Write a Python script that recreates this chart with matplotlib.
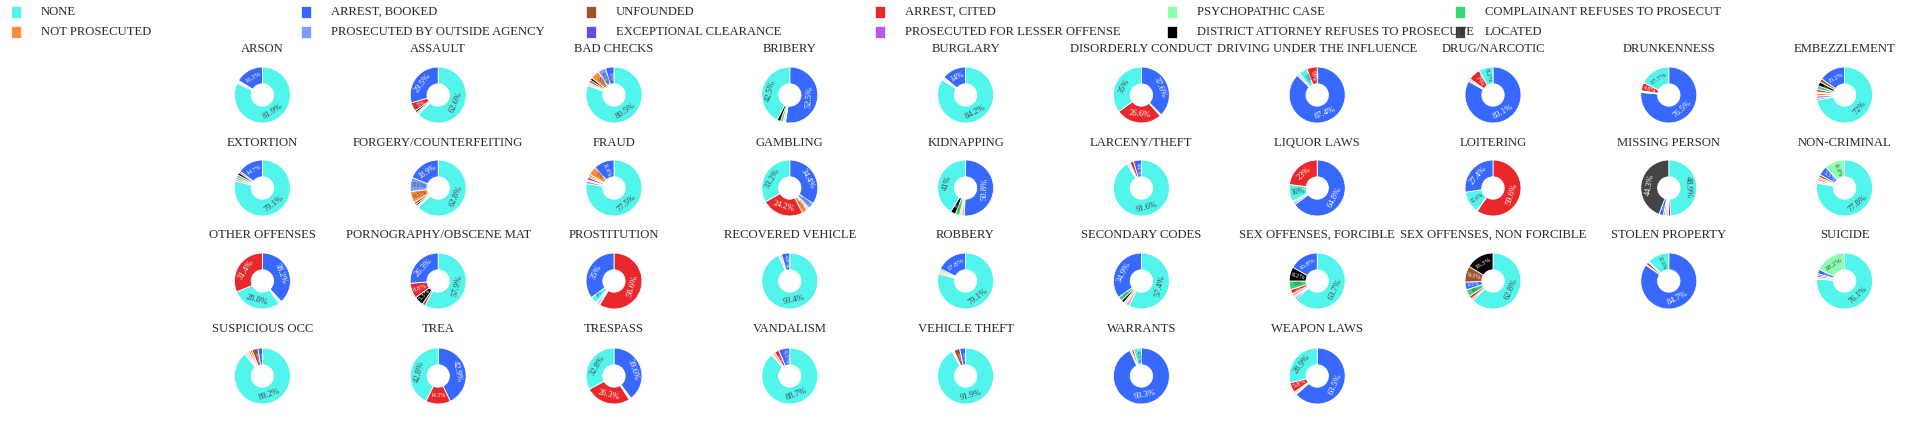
import matplotlib
matplotlib.use("Agg")
import matplotlib.pyplot as plt
import numpy as np
import math
from matplotlib.patches import Rectangle

# ---------------- data ----------------
crimes = ["ARSON", "ASSAULT", "BAD CHECKS", "BRIBERY", "BURGLARY", "DISORDERLY CONDUCT",
          "DRIVING UNDER THE INFLUENCE", "DRUG/NARCOTIC", "DRUNKENNESS", "EMBEZZLEMENT",
          "EXTORTION", "FORGERY/COUNTERFEITING", "FRAUD", "GAMBLING", "KIDNAPPING",
          "LARCENY/THEFT", "LIQUOR LAWS", "LOITERING", "MISSING PERSON", "NON-CRIMINAL",
          "OTHER OFFENSES", "PORNOGRAPHY/OBSCENE MAT", "PROSTITUTION", "RECOVERED VEHICLE",
          "ROBBERY", "SECONDARY CODES", "SEX OFFENSES, FORCIBLE", "SEX OFFENSES, NON FORCIBLE",
          "STOLEN PROPERTY", "SUICIDE", "SUSPICIOUS OCC", "TREA", "TRESPASS", "VANDALISM",
          "VEHICLE THEFT", "WARRANTS", "WEAPON LAWS"]

res_codes = ["N", "B", "U", "C", "P", "R", "X", "O", "E", "L", "D", "M", "J", "K", "A"]
res_names = ["NONE", "ARREST, BOOKED", "UNFOUNDED", "ARREST, CITED", "PSYCHOPATHIC CASE",
             "COMPLAINANT REFUSES TO PROSECUT", "NOT PROSECUTED", "PROSECUTED BY OUTSIDE AGENCY",
             "EXCEPTIONAL CLEARANCE", "PROSECUTED FOR LESSER OFFENSE",
             "DISTRICT ATTORNEY REFUSES TO PROSECUTE", "LOCATED",
             "JUVENILE BOOKED", "JUVENILE CITED", "JUVENILE ADMONISHED"]
res_colors = ["#52F5EC", "#3768FF", "#A0522D", "#E8282B", "#8CFFAF", "#35D775", "#FF8C3A",
              "#7A9BFF", "#5E4EEB", "#B855F7", "#000000", "#444444", "#F4A5A5", "#E6C9A8",
              "#D8D8D8"]

# percentage of each resolution, per crime (same order as crimes)
none_vals = [81.9, 62.6, 80.5, 42.5, 84.2, 34.8, 5.0, 8.2, 17.7, 72.0,
             79.1, 62.8, 77.5, 33.2, 41.0, 91.6, 10.0, 12.6, 48.9, 77.8,
             28.8, 57.9, 4.0, 93.4, 79.1, 57.4, 63.7, 62.8, 12.6, 76.1,
             89.2, 42.8, 32.8, 88.7, 91.9, 4.5, 28.9]
booked_vals = [16.3, 29.5, 5.0, 52.5, 14.0, 37.3, 87.4, 83.1, 76.5, 15.2,
               14.7, 18.9, 11.9, 34.4, 50.8, 4.6, 64.8, 27.4, 2.5, 5.5,
               38.2, 26.3, 35.0, 4.8, 17.8, 34.9, 16.8, 4.5, 84.7, 2.5,
               2.6, 42.9, 39.6, 6.5, 3.4, 93.3, 63.5]
unfounded_vals = [0.4, 0, 1.5, 0, 0, 0, 0, 0, 0, 2.0,
                  1.0, 1.5, 1.0, 0, 0, 0, 0, 0, 1.3, 1.5,
                  0, 1.7, 0, 0, 0, 0, 0, 9.3, 0, 0,
                  3.5, 0, 0, 0, 3.4, 0, 0]
cited_vals = [0, 5.0, 0, 0, 0, 26.4, 6.0, 7.0, 4.8, 1.5,
              1.0, 0, 1.5, 24.2, 0, 2.0, 23.0, 59.6, 0, 1.0,
              31.4, 8.8, 58.6, 0.8, 0, 0, 2.5, 1.8, 1.5, 0,
              1.0, 14.3, 26.3, 2.5, 0, 1.2, 5.8]
psycho_vals = [0, 0, 0, 0, 0, 0, 0, 0, 0.5, 0,
               0, 0, 0, 0, 0, 0, 0, 0, 0, 11.6,
               0, 0, 0, 0, 0, 0, 0, 0, 0, 18.2,
               0, 0, 0, 0, 0, 0, 0]
complainant_vals = [0, 1.0, 0, 1.5, 0, 0, 0, 0, 0, 2.0,
                    1.5, 0, 0, 0, 2.5, 0, 0, 0, 0, 0,
                    0, 0, 0, 0, 1.0, 2.5, 5.0, 4.0, 0, 0,
                    0, 0, 0, 0, 0, 0, 0]
notpros_vals = [0.5, 0, 5.0, 0, 0, 0, 0, 0.9, 0, 1.5,
                0, 6.5, 5.0, 3.2, 0, 0, 0, 0, 1.0, 1.0,
                0, 0, 0, 0, 0, 0, 0, 0, 0, 0,
                1.2, 0, 0, 0, 0, 0, 0]
outside_vals = [0, 0, 4.5, 0, 0, 0, 0, 0, 0, 1.5,
                0, 8.1, 1.5, 3.5, 0, 0, 1.2, 0, 1.0, 0,
                0, 0, 0.7, 0, 0, 0, 0, 0, 0, 0,
                0, 0, 0, 0, 0, 0, 0]
exceptional_vals = [0] * 26 + [1.0, 0, 0, 1.0] + [0] * 7
lesser_vals = [0] * 9 + [1.0] + [0] * 12 + [1.0] + [0] * 14
da_vals = [0, 1.2, 1.5, 2.0, 0, 0, 0, 0, 0, 2.5,
           1.5, 1.0, 0.8, 0, 3.0, 0, 0, 0, 0, 0,
           0, 5.3, 0, 0, 0, 1.7, 8.2, 16.3, 0, 0,
           0, 0, 0, 0, 0, 0, 0]
located_vals = [0] * 18 + [44.3] + [0] * 10 + [1.0] + [0] * 7
juv_booked_vals = [0.9, 0.7, 1.0, 0.5, 0.8, 0, 0, 0.8, 0, 0.8,
                   1.2, 0.7, 0.8, 0, 1.5, 0.8, 1.0, 0, 1.0, 0.6,
                   0.8, 0, 0, 0, 1.0, 2.0, 1.8, 1.3, 0.7, 0,
                   1.0, 0, 0.7, 1.5, 0.5, 1.0, 1.0]
juv_cited_vals = [0] * 5 + [0.8] + [0] * 31
juv_admon_vals = [0, 0, 1.0, 1.0, 1.0, 0, 1.6, 0, 0.5, 0,
                  0, 0.5, 0, 1.5, 1.2, 1.0, 0, 0.4, 0, 1.0,
                  0.8, 0, 0.7, 1.0, 1.1, 1.5, 1.0, 0, 0.5, 1.2,
                  1.5, 0, 0.6, 0.8, 0.8, 0, 0.8]

# clockwise slice order (from 12 o'clock) for each pie
slice_order = ["NJXUB", "NJRDCB", "NAJUDXOB", "BJARDN", "NJAB", "BKACN", "BANC", "BXJCN",
               "BAPCN", "NLOXJCRDUB",
               "NJCRDUB", "NAJDUXOB", "NOJCDUXB", "BOAXCN", "BJARDN", "NAJCB", "BOJNC", "CANB",
               "NUXJOBM", "NAJCXUBP",
               "BAJNC", "NUDCB", "CALONB", "NACB", "NJARB", "NJADRB", "NEAJCRDB", "NJCRBUD",
               "BACJN", "NAMEBP",
               "NAJXCUB", "BCN", "BJACN", "NAJCB", "NAJUB", "BJCN", "BAJCN"]

legend_rows = [["NONE", "ARREST, BOOKED", "UNFOUNDED", "ARREST, CITED", "PSYCHOPATHIC CASE",
                "COMPLAINANT REFUSES TO PROSECUT"],
               ["NOT PROSECUTED", "PROSECUTED BY OUTSIDE AGENCY", "EXCEPTIONAL CLEARANCE",
                "PROSECUTED FOR LESSER OFFENSE", "DISTRICT ATTORNEY REFUSES TO PROSECUTE",
                "LOCATED"]]

series = dict(zip(res_codes, [none_vals, booked_vals, unfounded_vals, cited_vals, psycho_vals,
                              complainant_vals, notpros_vals, outside_vals, exceptional_vals,
                              lesser_vals, da_vals, located_vals, juv_booked_vals,
                              juv_cited_vals, juv_admon_vals]))
color_of = dict(zip(res_codes, res_colors))
name_color = dict(zip(res_names, res_colors))

# ---------------- layout ----------------
W, H, DPI = 1932, 424, 100
fig = plt.figure(figsize=(W / DPI, H / DPI), dpi=DPI)
fig.patch.set_facecolor("white")
SERIF = ["Liberation Serif", "DejaVu Serif"]
TXT = "#2a2a2a"

R = 28.0
NCOL = 10
col_x0, col_dx = 262.4, 175.8
row_cy = [95, 188, 281, 376]
row_ty = [49, 143, 235, 329]
HOLE = 0.4


def pct_label(p):
    return f"{p:.3g}%"


def em_width(s):
    w = 0.0
    for ch in s:
        if ch.isdigit():
            w += 0.5
        elif ch == ".":
            w += 0.25
        elif ch == "%":
            w += 0.83
        else:
            w += 0.5
    return w


def luminance(hexc):
    r, g, b = [int(hexc[i:i + 2], 16) / 255 for i in (1, 3, 5)]
    return 0.299 * r + 0.587 * g + 0.114 * b


def norm_rot(a):
    return ((a + 90) % 180) - 90


for i, crime in enumerate(crimes):
    r, c = divmod(i, NCOL)
    cx = col_x0 + c * col_dx
    cy = row_cy[r]
    ax = fig.add_axes([(cx - R) / W, 1 - (cy + R) / H, 2 * R / W, 2 * R / H])
    codes = [k for k in slice_order[i] if series[k][i] > 0]
    for k in res_codes:
        if series[k][i] > 0 and k not in codes:
            codes.append(k)
    vals = [series[k][i] for k in codes]
    cols = [color_of[k] for k in codes]
    ax.pie(vals, colors=cols, startangle=90, counterclock=False, radius=1,
           wedgeprops=dict(width=1 - HOLE, edgecolor="white", linewidth=0.6))
    ax.set_xlim(-1, 1)
    ax.set_ylim(-1, 1)
    ax.set_aspect("equal")
    ax.axis("off")

    total = sum(vals)
    start = 90.0
    T = (1 - HOLE) * R
    rmid = (1 + HOLE) / 2
    fmax = 8.5
    for v, col in zip(vals, cols):
        span = 360.0 * v / total
        mid = start - span / 2
        start -= span
        txt = pct_label(100 * v / total)
        wem = em_width(txt)
        arc = rmid * R * math.radians(span)
        f_t = min(fmax, T * 0.85 / 0.8, arc * 0.85 / wem)
        f_r = min(fmax, T * 0.85 / wem, arc * 0.85 / 0.8)
        if f_t >= f_r:
            f, rot = f_t, norm_rot(mid - 90)
        else:
            f, rot = f_r, norm_rot(mid)
        if f < 3.2:
            continue
        th = math.radians(mid)
        tc = "#444444" if luminance(col) > 0.6 else "white"
        ax.text(rmid * math.cos(th), rmid * math.sin(th), txt, ha="center", va="center",
                rotation=rot, rotation_mode="anchor", fontsize=f * 72 / DPI,
                family=SERIF, color=tc)

    fig.text(cx / W, 1 - row_ty[r] / H, crime, ha="center", va="center",
             fontsize=9.1, family=SERIF, color=TXT)

# legend
leg_mx = [16, 306, 591, 880, 1172, 1460]
leg_y = [12, 32]
for ri, row in enumerate(legend_rows):
    for ci, name in enumerate(row):
        mx, my = leg_mx[ci], leg_y[ri]
        fig.patches.append(Rectangle(((mx - 5) / W, 1 - (my + 6) / H), 10 / W, 12 / H,
                                     transform=fig.transFigure, facecolor=name_color[name],
                                     edgecolor="white", linewidth=0.5))
        fig.text((mx + 25) / W, 1 - my / H, name, ha="left", va="center",
                 fontsize=9.1, family=SERIF, color=TXT)

fig.savefig("out.png", dpi=DPI, facecolor="white")
